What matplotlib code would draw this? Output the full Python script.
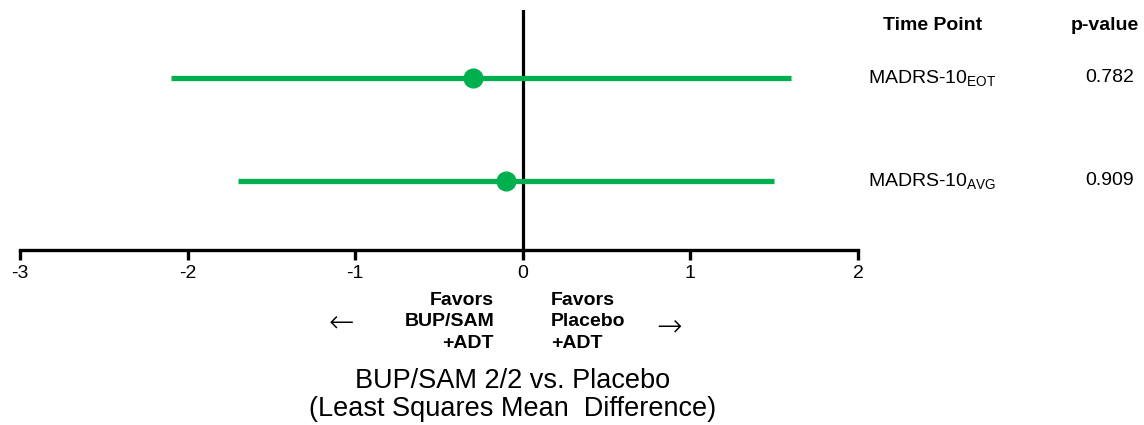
import matplotlib
matplotlib.use("Agg")
import matplotlib.pyplot as plt

plt.rcParams['font.family'] = ['Liberation Sans', 'DejaVu Sans']
plt.rcParams['mathtext.default'] = 'regular'

# data
labels = ["MADRS-10$_{EOT}$", "MADRS-10$_{AVG}$"]
estimates = [-0.3, -0.1]
ci_low = [-2.1, -1.7]
ci_high = [1.6, 1.5]
p_values = ["0.782", "0.909"]
rows = [2, 1]
xticks = [-3, -2, -1, 0, 1, 2]

green = "#00B04F"

fig = plt.figure(figsize=(11.44, 4.25), dpi=100)
ax = fig.add_axes([20 / 1144, 1 - 250 / 425, (858 - 20) / 1144, 240 / 425])

for y, est, lo, hi in zip(rows, estimates, ci_low, ci_high):
    ax.plot([lo, hi], [y, y], color=green, lw=3.8, solid_capstyle='butt', zorder=2)
    ax.plot(est, y, 'o', color=green, ms=13.5, zorder=3)

ax.axvline(0, color='black', lw=2.3, zorder=1)

ax.set_xlim(-3, 2)
ax.set_ylim(0.33, 2.66)
ax.set_xticks(xticks)
ax.set_xticklabels([str(t) for t in xticks])
ax.set_yticks([])
for s in ['top', 'right', 'left']:
    ax.spines[s].set_visible(False)
ax.spines['bottom'].set_linewidth(2.4)
ax.tick_params(axis='x', direction='out', length=7, width=2.4, labelsize=14, pad=4)

# right-hand table
fig.text(933 / 1144, 1 - 25 / 425, "Time Point", ha='center', va='center',
         fontsize=14, fontweight='bold')
fig.text(1105 / 1144, 1 - 25 / 425, "p-value", ha='center', va='center',
         fontsize=14, fontweight='bold')
for y, lab, p in zip(rows, labels, p_values):
    yf = ax.transData.transform((0, y))[1] / fig.bbox.height
    fig.text(868 / 1144, yf, lab, ha='left', va='center', fontsize=14)
    fig.text(1110 / 1144, yf, p, ha='center', va='center', fontsize=14)

# direction labels under the axis
fig.text(494 / 1144, 1 - 322 / 425, "Favors\nBUP/SAM\n+ADT", ha='right', va='center',
         fontsize=14, fontweight='bold', linespacing=1.32)
fig.text(551 / 1144, 1 - 322 / 425, "Favors\nPlacebo\n+ADT", ha='left', va='center',
         fontsize=14, fontweight='bold', linespacing=1.32)
fig.text(341 / 1144, 1 - 323 / 425, "\u2190", ha='center', va='center', fontsize=22,
         family=['DejaVu Sans'], fontweight='light')
fig.text(669 / 1144, 1 - 327 / 425, "\u2192", ha='center', va='center', fontsize=22,
         family=['DejaVu Sans'], fontweight='light')

fig.text(513 / 1144, 1 - 395 / 425,
         "BUP/SAM 2/2 vs. Placebo\n(Least Squares Mean  Difference)",
         ha='center', va='center', fontsize=19.5, linespacing=1.1)

fig.savefig("out.png", dpi=100)
